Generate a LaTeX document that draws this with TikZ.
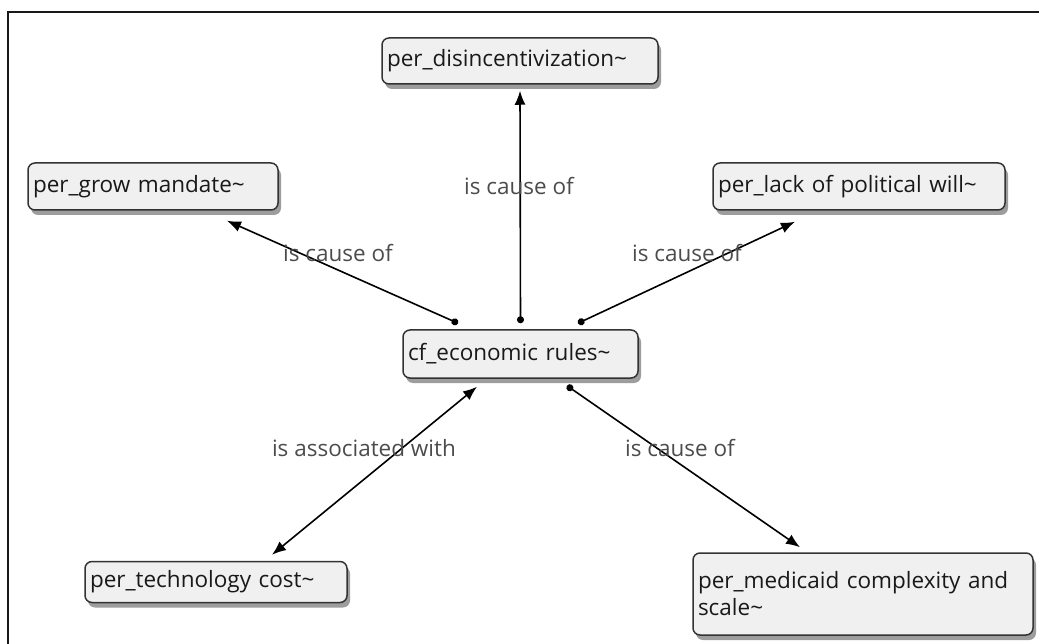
\documentclass[tikz,border=0pt]{standalone}
\usepackage{fontspec}
\setmainfont{Open Sans}
\usetikzlibrary{arrows.meta,shadows}

\tikzset{
  concept/.style={draw=black!80, line width=1.5pt, rounded corners=7pt, fill=black!6,
    drop shadow={shadow xshift=3pt, shadow yshift=-5pt, fill=black!70, opacity=0.55},
    font=\fontsize{22.5}{26}\selectfont, text=black!90, align=left, inner xsep=5pt},
  link/.style={line width=1.6pt, {Circle[length=7pt]}-{Latex[length=14pt,width=11pt]}},
  both/.style={line width=1.6pt, {Latex[length=14pt,width=11pt]}-{Latex[length=14pt,width=11pt]}},
  rel/.style={font=\fontsize{22.5}{26}\selectfont, text=black!70}
}

\begin{document}
\begin{tikzpicture}[x=1pt,y=-1pt]
    \useasboundingbox (0,0) rectangle (1039,644);

    % Frame
    \draw[line width=2.5pt, black!90] (8,644) -- (8,12) -- (1039,12);

    % Concepts
    \node[concept, minimum width=276pt, text width=266pt, minimum height=46pt] (dis) at (520,61) {per\_disincentivization\textasciitilde};
    \node[concept, minimum width=250pt, text width=240pt, minimum height=47pt] (grow) at (153,186.5) {per\_grow mandate\textasciitilde};
    \node[concept, minimum width=292pt, text width=282pt, minimum height=47pt] (lack) at (859,186.5) {per\_lack of political will\textasciitilde};
    \node[concept, minimum width=235pt, text width=225pt, minimum height=48pt] (cf) at (520.5,354) {cf\_economic rules\textasciitilde};
    \node[concept, minimum width=262pt, text width=252pt, minimum height=41pt] (tech) at (216,582) {per\_technology cost\textasciitilde};
    \node[concept, minimum width=340pt, text width=330pt, minimum height=82pt] (med) at (863,594) {per\_medicaid complexity and\\[1pt]scale\textasciitilde};

    % Links
    \draw[link] ([yshift=6pt]cf.north) -- ([yshift=-6pt]dis.south);
    \draw[link] ([xshift=-62.5pt,yshift=6pt]cf.north) -- ([xshift=74pt,yshift=-10pt]grow.south);
    \draw[link] ([xshift=57.5pt,yshift=6pt]cf.north) -- ([xshift=-64pt,yshift=-11pt]lack.south);
    \draw[both] ([xshift=-43.5pt,yshift=-8pt]cf.south) -- ([xshift=56pt,yshift=6pt]tech.north);
    \draw[link] ([xshift=46.5pt,yshift=-7pt]cf.south) -- ([xshift=-63pt,yshift=5pt]med.north);

    % Link labels
    \node[rel] (l1) at (519,186) {is cause of};
    \node[rel] (l2) at (338,253) {is cause of};
    \node[rel] (l3) at (687,253) {is cause of};
    \node[rel] (l4) at (364,448) {is associated with};
    \node[rel] (l5) at (680,448) {is cause of};
\end{tikzpicture}
\end{document}
